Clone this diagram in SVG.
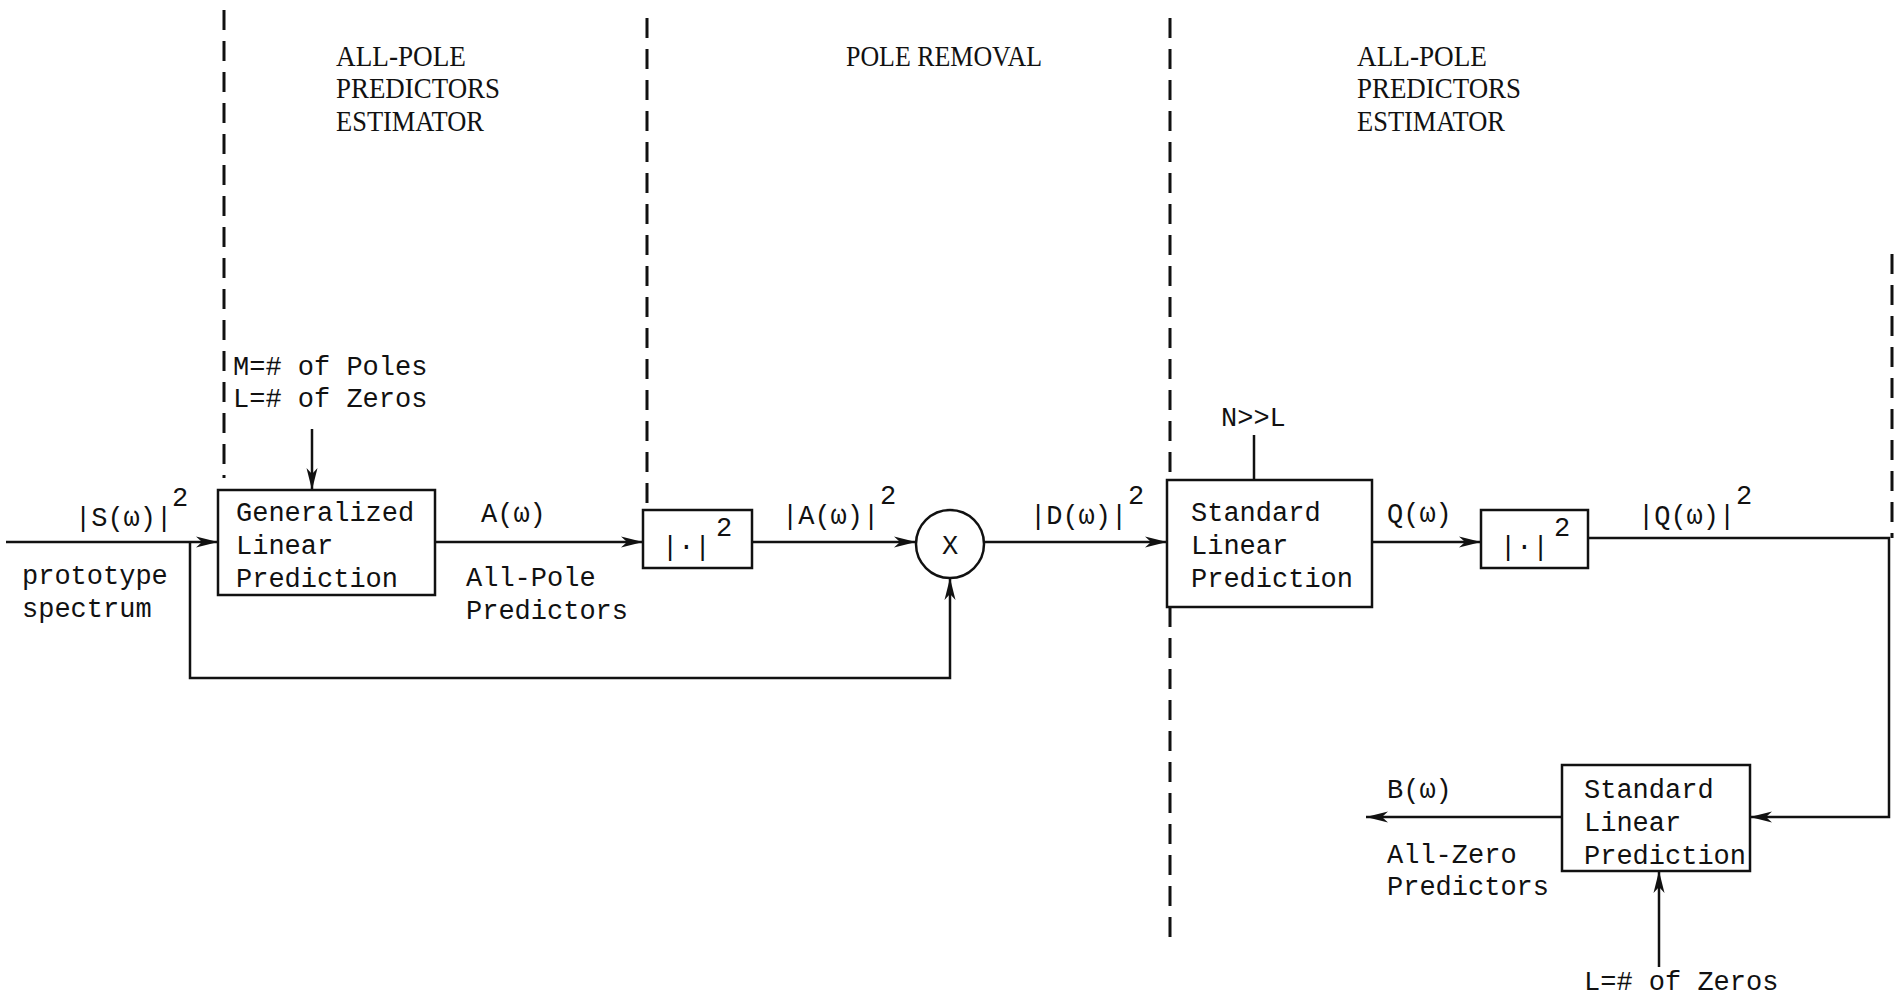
<svg xmlns="http://www.w3.org/2000/svg" width="1896" height="996" viewBox="0 0 1896 996">
<defs>
<style>
.bg{fill:#fff}
.ln{stroke:#111;stroke-width:2.5;fill:none}
.dash{stroke:#111;stroke-width:3;fill:none;stroke-dasharray:20 11}
.box{stroke:#111;stroke-width:2.5;fill:#fff}
.t{font-family:"Liberation Mono",monospace;font-size:27px;fill:#111}
.s{font-family:"Liberation Mono",monospace;font-size:27px;fill:#111}
.h{font-family:"Liberation Serif",serif;font-size:29px;fill:#111}
</style>
<marker id="ar" viewBox="0 0 22 12" refX="22" refY="6" markerWidth="22" markerHeight="12" markerUnits="userSpaceOnUse" orient="auto">
<path d="M0,0.5 L22,6 L0,11.5 L6,6 z" fill="#111"/>
</marker>
</defs>
<rect class="bg" width="1896" height="996"/>
<g id="dividers">
<line class="dash" x1="224" y1="10" x2="224" y2="478"/>
<line class="dash" x1="647" y1="18" x2="647" y2="508"/>
<line class="dash" x1="1170" y1="18" x2="1170" y2="940"/>
<line class="dash" x1="1892" y1="254" x2="1892" y2="538"/>
</g>
<g id="headers">
<text class="h" x="336" y="66" textLength="130" lengthAdjust="spacingAndGlyphs">ALL-POLE</text>
<text class="h" x="336" y="98" textLength="164" lengthAdjust="spacingAndGlyphs">PREDICTORS</text>
<text class="h" x="336" y="131" textLength="148" lengthAdjust="spacingAndGlyphs">ESTIMATOR</text>
<text class="h" x="846" y="66" textLength="196" lengthAdjust="spacingAndGlyphs">POLE REMOVAL</text>
<text class="h" x="1357" y="66" textLength="130" lengthAdjust="spacingAndGlyphs">ALL-POLE</text>
<text class="h" x="1357" y="98" textLength="164" lengthAdjust="spacingAndGlyphs">PREDICTORS</text>
<text class="h" x="1357" y="131" textLength="148" lengthAdjust="spacingAndGlyphs">ESTIMATOR</text>
</g>
<g id="connectors">
<line class="ln" x1="6" y1="542" x2="218" y2="542" marker-end="url(#ar)"/>
<polyline class="ln" points="190,542 190,678 950,678 950,578" marker-end="url(#ar)"/>
<line class="ln" x1="312" y1="429" x2="312" y2="490" marker-end="url(#ar)"/>
<line class="ln" x1="435" y1="542" x2="643" y2="542" marker-end="url(#ar)"/>
<line class="ln" x1="752" y1="542" x2="916" y2="542" marker-end="url(#ar)"/>
<line class="ln" x1="984" y1="542" x2="1167" y2="542" marker-end="url(#ar)"/>
<line class="ln" x1="1254" y1="435" x2="1254" y2="480"/>
<line class="ln" x1="1372" y1="542" x2="1481" y2="542" marker-end="url(#ar)"/>
<polyline class="ln" points="1588,538 1889,538 1889,817 1750,817" marker-end="url(#ar)"/>
<line class="ln" x1="1562" y1="817" x2="1366" y2="817" marker-end="url(#ar)"/>
<line class="ln" x1="1659" y1="967" x2="1659" y2="871" marker-end="url(#ar)"/>
</g>
<g id="glp">
<rect class="box" x="218" y="490" width="217" height="105"/>
<text class="t" x="236" y="521">Generalized</text>
<text class="t" x="236" y="554">Linear</text>
<text class="t" x="236" y="587">Prediction</text>
</g>
<g id="glp-params">
<text class="t" x="233" y="375">M=# of Poles</text>
<text class="t" x="233" y="407">L=# of Zeros</text>
</g>
<g id="mag1">
<rect class="box" x="643" y="510" width="109" height="58"/>
<text class="t" x="662" y="555">|·|</text>
<text class="s" x="716" y="536">2</text>
</g>
<g id="mult">
<circle class="box" cx="950" cy="544" r="34"/>
<text class="t" x="950" y="554" text-anchor="middle">X</text>
</g>
<g id="slp1">
<rect class="box" x="1167" y="480" width="205" height="127"/>
<text class="t" x="1191" y="521">Standard</text>
<text class="t" x="1191" y="554">Linear</text>
<text class="t" x="1191" y="587">Prediction</text>
</g>
<g id="mag2">
<rect class="box" x="1481" y="510" width="107" height="58"/>
<text class="t" x="1500" y="555">|·|</text>
<text class="s" x="1554" y="536">2</text>
</g>
<g id="slp2">
<rect class="box" x="1562" y="765" width="188" height="106"/>
<text class="t" x="1584" y="798">Standard</text>
<text class="t" x="1584" y="831">Linear</text>
<text class="t" x="1584" y="864">Prediction</text>
</g>
<g id="labels">
<text class="t" x="75" y="526">|S(ω)|</text>
<text class="s" x="172" y="506">2</text>
<text class="t" x="22" y="584">prototype</text>
<text class="t" x="22" y="617">spectrum</text>
<text class="t" x="481" y="522">A(ω)</text>
<text class="t" x="466" y="586">All-Pole</text>
<text class="t" x="466" y="619">Predictors</text>
<text class="t" x="782" y="524">|A(ω)|</text>
<text class="s" x="880" y="504">2</text>
<text class="t" x="1030" y="524">|D(ω)|</text>
<text class="s" x="1128" y="504">2</text>
<text class="t" x="1221" y="426">N&gt;&gt;L</text>
<text class="t" x="1387" y="522">Q(ω)</text>
<text class="t" x="1638" y="524">|Q(ω)|</text>
<text class="s" x="1736" y="504">2</text>
<text class="t" x="1387" y="798">B(ω)</text>
<text class="t" x="1387" y="863">All-Zero</text>
<text class="t" x="1387" y="895">Predictors</text>
<text class="t" x="1584" y="990">L=# of Zeros</text>
</g>
</svg>
